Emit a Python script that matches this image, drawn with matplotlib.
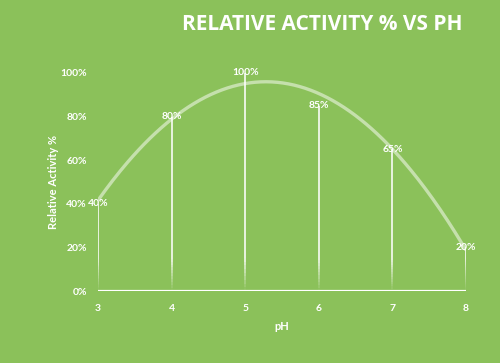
import numpy as np
import matplotlib
matplotlib.use("Agg")
import matplotlib.pyplot as plt
from matplotlib.collections import LineCollection

# data
ph = [3, 4, 5, 6, 7, 8]
activity = [40, 80, 100, 85, 65, 20]
yticks = [0, 20, 40, 60, 80, 100]
ytick_labels = ["0%", "20%", "40%", "60%", "80%", "100%"]

bg = "#8bc15a"
plt.rcParams['font.family'] = ['Lato', 'DejaVu Sans']

fig = plt.figure(figsize=(5, 3.63), dpi=100, facecolor=bg)
ax = fig.add_axes([0.196, 0.198, 0.736, 0.601])
ax.set_facecolor(bg)
ax.set_xlim(3, 8)
ax.set_ylim(0, 100)

# trend curve (quadratic fit to the points)
coef = np.polyfit(ph, activity, 2)
xs = np.linspace(3, 8, 200)
ax.plot(xs, np.polyval(coef, xs), color="white", alpha=0.5, lw=2.4,
        solid_capstyle="butt", zorder=2)

# vertical drop lines fading towards the bottom
for x, v in zip(ph, activity):
    ys = np.linspace(0, v, 60)
    segs = [[(x, ys[i]), (x, ys[i + 1])] for i in range(len(ys) - 1)]
    mid = (ys[:-1] + ys[1:]) / 2
    alphas = np.clip(mid / 15.0, 0, 1) * 0.95
    cols = [(1, 1, 1, a) for a in alphas]
    ax.add_collection(LineCollection(segs, colors=cols, linewidths=1.2, zorder=3))
    ax.text(x, v, f"{v}%", color="white", fontsize=7.5, fontweight="bold",
            ha="center", va="center", clip_on=False, zorder=4)

# x axis line
ax.axhline(0, color="white", lw=1.6, zorder=3)
for s in ax.spines.values():
    s.set_visible(False)

ax.set_xticks(ph)
ax.set_xticklabels([str(p) for p in ph])
ax.set_yticks(yticks)
ax.set_yticklabels(ytick_labels)
ax.tick_params(length=0, colors="white", labelsize=7.5, pad=9)
for lab in ax.get_xticklabels() + ax.get_yticklabels():
    lab.set_fontweight("bold")
ax.tick_params(axis="y", pad=8)

ax.set_xlabel("pH", color="white", fontsize=8, fontweight="bold", labelpad=6)
ax.set_ylabel("Relative Activity %", color="white", fontsize=8,
              fontweight="bold", labelpad=1)

fig.text(0.645, 0.932, "RELATIVE ACTIVITY % VS PH", color="white",
         fontsize=15, fontweight="bold", ha="center", va="center",
         family=["Open Sans", "DejaVu Sans"])

fig.savefig("out.png", dpi=100, facecolor=bg)
